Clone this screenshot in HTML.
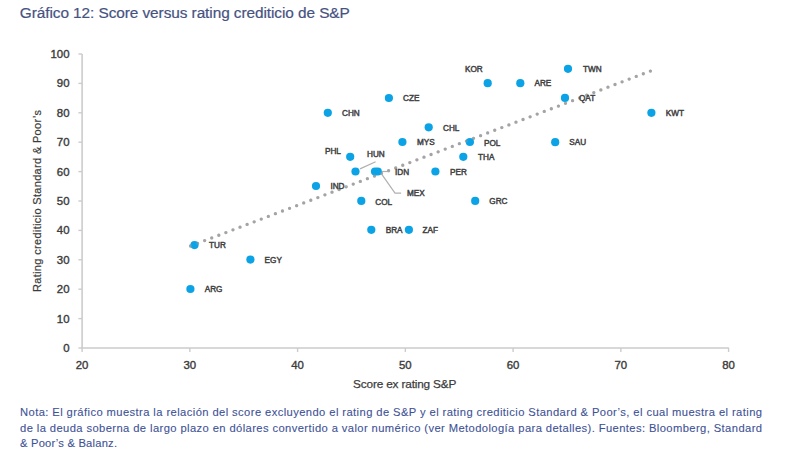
<!DOCTYPE html>
<html><head><meta charset="utf-8"><style>
html,body{margin:0;padding:0;background:#fff;width:800px;height:460px;overflow:hidden}
svg{position:absolute;left:0;top:0;font-family:"Liberation Sans",sans-serif}
.ax{font-size:11.4px;fill:#3c3c3c;stroke:#3c3c3c;stroke-width:0.38px}
.lb{font-size:8.2px;fill:#424242;stroke:#424242;stroke-width:0.45px}
.tt{font-size:15.4px;fill:#46527f;stroke:#46527f;stroke-width:0.2px}
.nt{font-size:11.2px;fill:#3e5296;stroke:#3e5296;stroke-width:0.1px}
</style></head><body>
<svg width="800" height="460" viewBox="0 0 800 460">
<text x="19.8" y="18" class="tt" textLength="330" lengthAdjust="spacing">Gráfico 12: Score versus rating crediticio de S&amp;P</text>
<path d="M82.1 54V348H728.9" fill="none" stroke="#cccccc" stroke-width="1.6"/>
<path d="M78.4 348.00H82.1" stroke="#cccccc" stroke-width="1.4"/>
<text x="69.5" y="352.00" text-anchor="end" class="ax">0</text>
<path d="M78.4 318.60H82.1" stroke="#cccccc" stroke-width="1.4"/>
<text x="69.5" y="322.60" text-anchor="end" class="ax">10</text>
<path d="M78.4 289.20H82.1" stroke="#cccccc" stroke-width="1.4"/>
<text x="69.5" y="293.20" text-anchor="end" class="ax">20</text>
<path d="M78.4 259.80H82.1" stroke="#cccccc" stroke-width="1.4"/>
<text x="69.5" y="263.80" text-anchor="end" class="ax">30</text>
<path d="M78.4 230.40H82.1" stroke="#cccccc" stroke-width="1.4"/>
<text x="69.5" y="234.40" text-anchor="end" class="ax">40</text>
<path d="M78.4 201.00H82.1" stroke="#cccccc" stroke-width="1.4"/>
<text x="69.5" y="205.00" text-anchor="end" class="ax">50</text>
<path d="M78.4 171.60H82.1" stroke="#cccccc" stroke-width="1.4"/>
<text x="69.5" y="175.60" text-anchor="end" class="ax">60</text>
<path d="M78.4 142.20H82.1" stroke="#cccccc" stroke-width="1.4"/>
<text x="69.5" y="146.20" text-anchor="end" class="ax">70</text>
<path d="M78.4 112.80H82.1" stroke="#cccccc" stroke-width="1.4"/>
<text x="69.5" y="116.80" text-anchor="end" class="ax">80</text>
<path d="M78.4 83.40H82.1" stroke="#cccccc" stroke-width="1.4"/>
<text x="69.5" y="87.40" text-anchor="end" class="ax">90</text>
<path d="M78.4 54.00H82.1" stroke="#cccccc" stroke-width="1.4"/>
<text x="69.5" y="58.00" text-anchor="end" class="ax">100</text>
<path d="M82.10 348V352" stroke="#cccccc" stroke-width="1.4"/>
<text x="82.10" y="368.7" text-anchor="middle" class="ax">20</text>
<path d="M189.85 348V352" stroke="#cccccc" stroke-width="1.4"/>
<text x="189.85" y="368.7" text-anchor="middle" class="ax">30</text>
<path d="M297.60 348V352" stroke="#cccccc" stroke-width="1.4"/>
<text x="297.60" y="368.7" text-anchor="middle" class="ax">40</text>
<path d="M405.35 348V352" stroke="#cccccc" stroke-width="1.4"/>
<text x="405.35" y="368.7" text-anchor="middle" class="ax">50</text>
<path d="M513.10 348V352" stroke="#cccccc" stroke-width="1.4"/>
<text x="513.10" y="368.7" text-anchor="middle" class="ax">60</text>
<path d="M620.85 348V352" stroke="#cccccc" stroke-width="1.4"/>
<text x="620.85" y="368.7" text-anchor="middle" class="ax">70</text>
<path d="M728.60 348V352" stroke="#cccccc" stroke-width="1.4"/>
<text x="728.60" y="368.7" text-anchor="middle" class="ax">80</text>
<path d="M190.5 246L650.9 70.85" stroke="#a4a4a4" stroke-width="3.3" stroke-linecap="round" stroke-dasharray="0 7.57" fill="none"/>
<path d="M360 168.9L375.6 161.7" stroke="#b0b0b0" stroke-width="1.2" fill="none"/>
<path d="M382 171.5H389.7" stroke="#b0b0b0" stroke-width="1.2" fill="none"/>
<path d="M380.6 172.7L395 193.2H401.1" stroke="#b0b0b0" stroke-width="1.2" fill="none"/>
<path d="M345 186.4H347.5" stroke="#b0b0b0" stroke-width="1.2" fill="none"/>
<circle cx="568" cy="68.8" r="4.1" fill="#0ba3e6"/>
<circle cx="487.7" cy="83.2" r="4.1" fill="#0ba3e6"/>
<circle cx="520.3" cy="83.2" r="4.1" fill="#0ba3e6"/>
<circle cx="565" cy="97.9" r="4.1" fill="#0ba3e6"/>
<circle cx="388.9" cy="98" r="4.1" fill="#0ba3e6"/>
<circle cx="651.4" cy="112.8" r="4.1" fill="#0ba3e6"/>
<circle cx="327.8" cy="112.8" r="4.1" fill="#0ba3e6"/>
<circle cx="428.7" cy="127.3" r="4.1" fill="#0ba3e6"/>
<circle cx="402.4" cy="142" r="4.1" fill="#0ba3e6"/>
<circle cx="469.9" cy="142" r="4.1" fill="#0ba3e6"/>
<circle cx="555.2" cy="142.2" r="4.1" fill="#0ba3e6"/>
<circle cx="350.2" cy="156.8" r="4.1" fill="#0ba3e6"/>
<circle cx="463.3" cy="156.8" r="4.1" fill="#0ba3e6"/>
<circle cx="355.5" cy="171.5" r="4.1" fill="#0ba3e6"/>
<circle cx="375" cy="171.5" r="4.1" fill="#0ba3e6"/>
<circle cx="377.8" cy="171.5" r="4.1" fill="#0ba3e6"/>
<circle cx="435.4" cy="171.5" r="4.1" fill="#0ba3e6"/>
<circle cx="316" cy="186" r="4.1" fill="#0ba3e6"/>
<circle cx="361.3" cy="200.9" r="4.1" fill="#0ba3e6"/>
<circle cx="475.2" cy="200.9" r="4.1" fill="#0ba3e6"/>
<circle cx="371.3" cy="229.8" r="4.1" fill="#0ba3e6"/>
<circle cx="408.9" cy="229.8" r="4.1" fill="#0ba3e6"/>
<circle cx="194.5" cy="245.1" r="4.1" fill="#0ba3e6"/>
<circle cx="250.4" cy="259.6" r="4.1" fill="#0ba3e6"/>
<circle cx="190.4" cy="289" r="4.1" fill="#0ba3e6"/>
<path d="M190.5 246L650.9 70.85" stroke="#a4a4a4" stroke-width="3.3" stroke-linecap="round" stroke-dasharray="0 7.57" fill="none" opacity="0.3"/>
<text x="583" y="72.00" class="lb">TWN</text>
<text x="465" y="72.00" class="lb">KOR</text>
<text x="534.5" y="86.00" class="lb">ARE</text>
<text x="579" y="101.00" class="lb">QAT</text>
<text x="403" y="101.00" class="lb">CZE</text>
<text x="665.7" y="116.00" class="lb">KWT</text>
<text x="342" y="116.00" class="lb">CHN</text>
<text x="443" y="130.50" class="lb">CHL</text>
<text x="417" y="145.00" class="lb">MYS</text>
<text x="484" y="145.50" class="lb">POL</text>
<text x="569.3" y="145.00" class="lb">SAU</text>
<text x="325" y="154.40" class="lb">PHL</text>
<text x="478" y="160.00" class="lb">THA</text>
<text x="367" y="157.00" class="lb">HUN</text>
<text x="395" y="175.00" class="lb">IDN</text>
<text x="407" y="196.00" class="lb">MEX</text>
<text x="450" y="174.50" class="lb">PER</text>
<text x="330.4" y="189.40" class="lb">IND</text>
<text x="375.3" y="204.50" class="lb">COL</text>
<text x="489.3" y="204.00" class="lb">GRC</text>
<text x="385.7" y="233.00" class="lb">BRA</text>
<text x="422.6" y="233.00" class="lb">ZAF</text>
<text x="209" y="248.40" class="lb">TUR</text>
<text x="264.6" y="262.70" class="lb">EGY</text>
<text x="204.7" y="292.30" class="lb">ARG</text>
<text transform="translate(40.8 292) rotate(-90)" class="ax" style="font-size:11px;stroke-width:0.2px" textLength="182" lengthAdjust="spacing">Rating crediticio Standard &amp; Poor’s</text>
<text x="353.1" y="387.6" class="ax" style="font-size:11.8px;stroke-width:0.25px" textLength="103.3" lengthAdjust="spacing">Score ex rating S&amp;P</text>
<text x="20" y="415.8" class="nt" textLength="742" lengthAdjust="spacing">Nota: El gráfico muestra la relación del score excluyendo el rating de S&amp;P y el rating crediticio Standard &amp; Poor’s, el cual muestra el rating</text>
<text x="20" y="431.6" class="nt" textLength="742" lengthAdjust="spacing">de la deuda soberna de largo plazo en dólares convertido a valor numérico (ver Metodología para detalles). Fuentes: Bloomberg, Standard</text>
<text x="20" y="447.1" class="nt" textLength="97" lengthAdjust="spacing">&amp; Poor’s &amp; Balanz.</text>
</svg>
</body></html>
